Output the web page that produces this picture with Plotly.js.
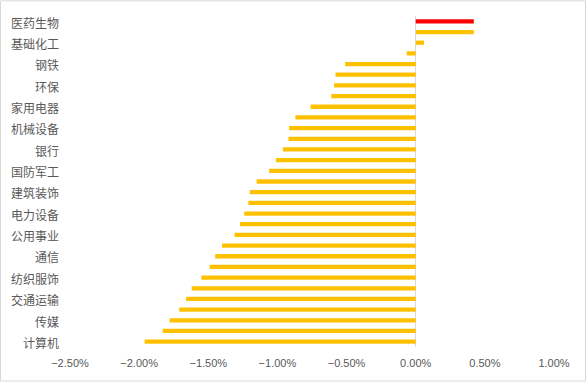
<!DOCTYPE html>
<html>
<head>
<meta charset="utf-8">
<script src="https://cdn.plot.ly/plotly-3.0.1.min.js"></script>
<style>html,body{margin:0;padding:0;background:#fff;}#chart{width:586px;height:382px;}</style>
</head>
<body>
<div id="chart"></div>
<script>
// Categories from top to bottom (only every other one is labelled in the chart)
const categories = [
  "医药生物","农林牧渔","基础化工","有色金属","钢铁","电子","环保","汽车",
  "家用电器","食品饮料","机械设备","轻工制造","银行","商贸零售","国防军工","社会服务",
  "建筑装饰","房地产","电力设备","非银金融","公用事业","建筑材料","通信","综合",
  "纺织服饰","石油石化","交通运输","煤炭","传媒","美容护理","计算机"
];
// Daily change, percent
const values = [
  0.42, 0.42, 0.06, -0.065, -0.51, -0.58, -0.59, -0.61,
  -0.76, -0.87, -0.915, -0.92, -0.96, -1.01, -1.06, -1.15,
  -1.20, -1.21, -1.24, -1.27, -1.31, -1.40, -1.45, -1.49,
  -1.55, -1.62, -1.66, -1.71, -1.78, -1.83, -1.96
];
const highlight = "医药生物";

const colors = categories.map(c => c === highlight ? "#FF0000" : "#FFC000");
const shownLabels = categories.filter((c, i) => i % 2 === 0);

const L = 70, R = 32, T = 15.7, B = 34.6, W = 586, H = 382;
const pw = W - L - R, ph = H - T - B;

const data = [{
  type: "bar",
  orientation: "h",
  y: categories,
  x: values.map(v => v / 100),
  marker: {color: colors},
  hoverinfo: "y+x"
}];

const layout = {
  width: W, height: H,
  margin: {l: L, r: R, t: T, b: B, pad: 0},
  paper_bgcolor: "#FFFFFF",
  plot_bgcolor: "#FFFFFF",
  showlegend: false,
  bargap: 0.6,
  xaxis: {
    range: [-0.025, 0.01],
    tickvals: [-0.025, -0.02, -0.015, -0.01, -0.005, 0, 0.005, 0.01],
    tickformat: ".2%",
    showgrid: false,
    zeroline: true,
    zerolinecolor: "#D9D9D9",
    zerolinewidth: 1,
    showline: false,
    ticks: "",
    ticklabelstandoff: 8,
    fixedrange: true,
    tickfont: {family: "Liberation Sans, Arial, sans-serif", size: 11, color: "#595959"}
  },
  yaxis: {
    type: "category",
    autorange: "reversed",
    tickvals: shownLabels,
    ticktext: shownLabels,
    showgrid: false,
    zeroline: false,
    showline: false,
    ticks: "",
    ticklabelstandoff: 10,
    ticklabelshift: -2,
    fixedrange: true,
    tickfont: {family: "Noto Sans CJK SC, sans-serif", size: 12, color: "#595959"}
  },
  shapes: [{
    type: "rect", xref: "paper", yref: "paper",
    x0: -(L - 0.5) / pw, x1: (W - 0.5 - L) / pw,
    y0: -(H - 0.5 - (T + ph)) / ph, y1: 1 + (T - 0.5) / ph,
    line: {color: "#D9D9D9", width: 1},
    fillcolor: "rgba(0,0,0,0)",
    layer: "below"
  }]
};

Plotly.newPlot("chart", data, layout, {displayModeBar: false, staticPlot: true});
</script>
</body>
</html>
